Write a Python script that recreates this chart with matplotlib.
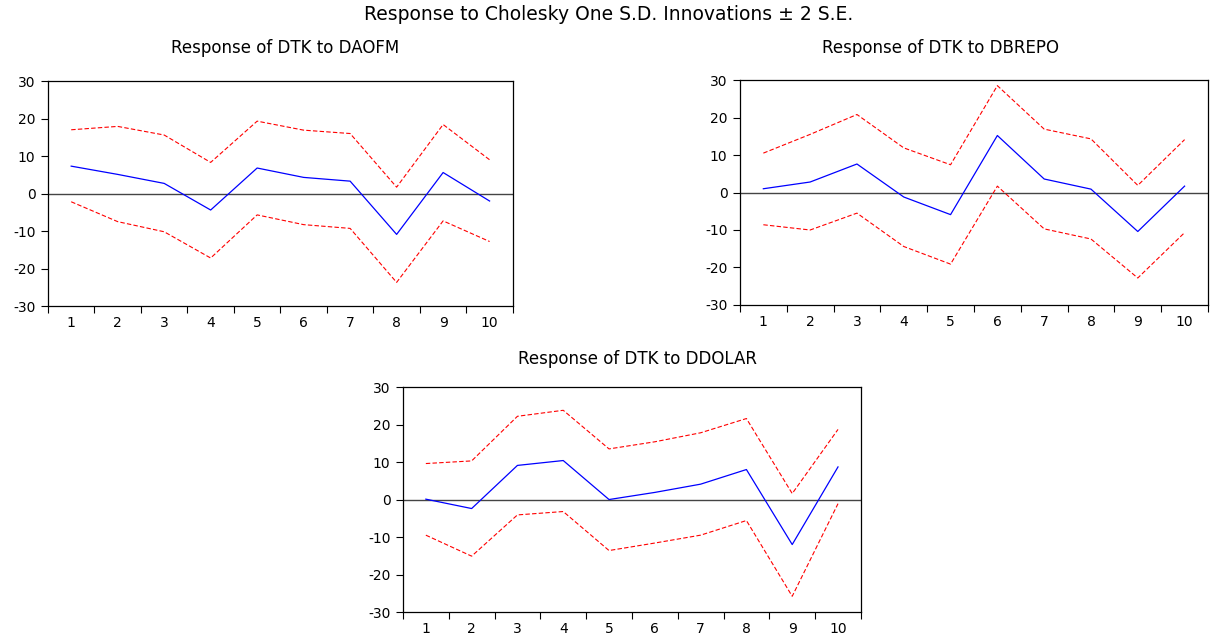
import matplotlib
matplotlib.use("Agg")
import matplotlib.pyplot as plt
import numpy as np

plt.rcParams['font.family'] = ['DejaVu Sans']

# impulse response periods
periods = np.arange(1, 11)

# Response of DTK to DAOFM
daofm_resp = [7.3, 5.1, 2.7, -4.4, 6.8, 4.3, 3.3, -10.9, 5.6, -2.0]
daofm_upper = [17.0, 17.9, 15.6, 8.3, 19.3, 16.9, 16.0, 1.7, 18.4, 9.0]
daofm_lower = [-2.2, -7.5, -10.2, -17.2, -5.7, -8.3, -9.3, -23.7, -7.3, -12.8]

# Response of DTK to DBREPO
dbrepo_resp = [1.0, 2.8, 7.6, -1.2, -5.9, 15.2, 3.6, 0.9, -10.4, 1.7]
dbrepo_upper = [10.5, 15.5, 20.8, 11.9, 7.4, 28.5, 16.9, 14.3, 1.9, 14.1]
dbrepo_lower = [-8.6, -10.0, -5.5, -14.4, -19.1, 1.7, -9.7, -12.4, -22.8, -10.7]

# Response of DTK to DDOLAR
ddolar_resp = [0.1, -2.4, 9.1, 10.4, 0.0, 1.9, 4.1, 8.0, -12.0, 8.7]
ddolar_upper = [9.6, 10.3, 22.2, 23.8, 13.5, 15.4, 17.8, 21.6, 1.6, 18.7]
ddolar_lower = [-9.5, -15.1, -4.1, -3.2, -13.6, -11.6, -9.5, -5.6, -25.8, -1.1]

y_ticks = [-30, -20, -10, 0, 10, 20, 30]

fig = plt.figure(figsize=(12.17, 6.37), dpi=100)

fig.text(0.5, 0.978, "Response to Cholesky One S.D. Innovations \u00b1 2 S.E.",
         ha='center', va='center', fontsize=13.5)


def panel(rect, resp, upper, lower, title, title_xy):
    ax = fig.add_axes(rect)
    ax.axhline(0, color='#444444', lw=1.0, zorder=1)
    ax.plot(periods, upper, color='red', lw=0.8, ls=(0, (4, 2)), zorder=2)
    ax.plot(periods, lower, color='red', lw=0.8, ls=(0, (4, 2)), zorder=2)
    ax.plot(periods, resp, color='blue', lw=0.9, zorder=3)
    ax.set_xlim(0.5, 10.5)
    ax.set_ylim(-30, 30)
    ax.set_yticks(y_ticks)
    ax.set_yticklabels([str(t) for t in y_ticks])
    ax.set_xticks(np.arange(0.5, 11, 1.0))
    ax.set_xticklabels([])
    ax.set_xticks(periods, minor=True)
    ax.set_xticklabels([str(p) for p in periods], minor=True)
    ax.tick_params(axis='x', which='major', direction='out', length=5, width=0.8)
    ax.tick_params(axis='x', which='minor', length=0, labelsize=10, pad=7)
    ax.tick_params(axis='y', direction='out', length=5, width=0.8, labelsize=10, pad=4)
    for s in ax.spines.values():
        s.set_linewidth(0.9)
    fig.text(title_xy[0], title_xy[1], title, ha='center', va='center',
             fontsize=12)
    return ax


panel([0.0394, 0.5196, 0.382, 0.3532], daofm_resp, daofm_upper, daofm_lower,
      "Response of DTK to DAOFM", (0.234, 0.924))
panel([0.608, 0.5212, 0.3846, 0.3532], dbrepo_resp, dbrepo_upper, dbrepo_lower,
      "Response of DTK to DBREPO", (0.773, 0.925))
panel([0.3311, 0.0392, 0.3763, 0.3532], ddolar_resp, ddolar_upper, ddolar_lower,
      "Response of DTK to DDOLAR", (0.524, 0.437))

fig.savefig("out.png", dpi=100)
